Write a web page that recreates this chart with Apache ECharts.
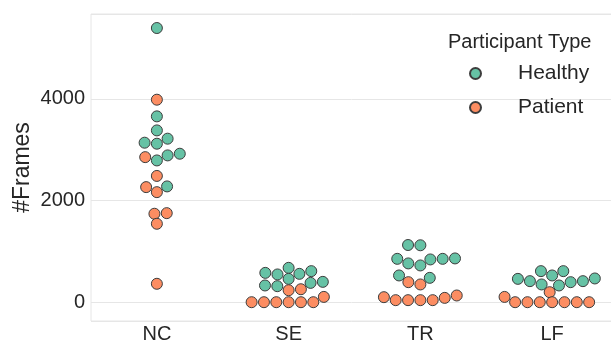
<!DOCTYPE html>
<html><head><meta charset="utf-8">
<script src="https://cdn.jsdelivr.net/npm/echarts@6/dist/echarts.min.js"></script>
<style>html,body{margin:0;padding:0;background:#fff}#c{width:611px;height:343px}</style>
</head><body><div id="c"></div>
<script>
const categories = ['NC', 'SE', 'TR', 'LF'];
const groupNames = ['Healthy', 'Patient'];
const yTickValues = [0, 2000, 4000];

const healthyNC = [5394, 3656, 3380, 3217, 3138, 3118, 2921, 2888, 2789, 2278];
const healthySE = [676, 611, 577, 558, 546, 459, 400, 380, 329, 315];
const healthyTR = [1125, 1120, 861, 853, 853, 841, 763, 723, 526, 479];
const healthyLF = [611, 611, 526, 467, 459, 414, 414, 394, 349, 329];

const patientNC = [3984, 2854, 2484, 2264, 2165, 1752, 1740, 1543, 362];
const patientSE = [255, 235, 104, 0, 0, 0, 0, 0, 0];
const patientTR = [394, 349, 132, 99, 85, 40, 40, 40, 40];
const patientLF = [197, 104, 0, 0, 0, 0, 0, 0, 0];

const healthy = [healthyNC, healthySE, healthyTR, healthyLF];
const patient = [patientNC, patientSE, patientTR, patientLF];

const FONT = 'Liberation Sans, Arial, Helvetica, sans-serif';
const TEXT = '#262626';

const chart = echarts.init(document.getElementById('c'), null, {renderer: 'canvas'});

function rawData(groups) {
  const out = [];
  groups.forEach((vals, ci) => vals.forEach(v => out.push([ci, v])));
  return out;
}

const baseStyle = {borderColor: '#3d3d3d', borderWidth: 1, opacity: 1};

const option = {
  animation: false,
  backgroundColor: '#ffffff',
  textStyle: {fontFamily: FONT},
  grid: {left: 91, right: -7, top: 14, bottom: 22, show: true, borderColor: '#e6e6e6', borderWidth: 1,
         containLabel: false, outerBoundsMode: 'none'},
  xAxis: [
    {type: 'category', data: categories, boundaryGap: true,
     axisLine: {show: false}, axisTick: {show: false}, splitLine: {show: false},
     axisLabel: {fontSize: 20, color: TEXT, margin: 3, fontFamily: FONT}},
    {type: 'value', min: -0.5, max: 3.5, show: false, splitLine: {show: false}}
  ],
  yAxis: {
    type: 'value', min: -370, max: 5670, splitNumber: 3,
    name: '#Frames', nameLocation: 'middle', nameRotate: 90, nameGap: 57, nameMoveOverlap: false,
    nameTextStyle: {fontSize: 23, color: TEXT, fontFamily: FONT},
    axisLine: {show: false}, axisTick: {show: false},
    axisLabel: {fontSize: 20, color: TEXT, margin: 6, fontFamily: FONT, showMinLabel: false, showMaxLabel: false,
      formatter: v => (yTickValues.indexOf(v) >= 0 ? String(v) : '')},
    splitLine: {lineStyle: {color: '#e6e6e6', width: 1}}
  },
  legend: {
    orient: 'vertical', left: 469, top: 63, padding: 0, itemGap: 13,
    icon: 'circle', itemWidth: 11, itemHeight: 11,
    textStyle: {fontSize: 21, color: TEXT, fontFamily: FONT, padding: [0, 0, 0, 32]},
    data: groupNames
  },
  graphic: [{
    type: 'text', left: 448, top: 32,
    style: {text: 'Participant Type', fontSize: 20, fill: TEXT, fontFamily: FONT}
  }],
  series: [
    {name: 'Healthy', type: 'scatter', xAxisIndex: 1, yAxisIndex: 0, symbolSize: 11,
     itemStyle: Object.assign({color: '#66c2a5'}, baseStyle), emphasis: {disabled: true},
     data: rawData(healthy)},
    {name: 'Patient', type: 'scatter', xAxisIndex: 1, yAxisIndex: 0, symbolSize: 11,
     itemStyle: Object.assign({color: '#fc8d62'}, baseStyle), emphasis: {disabled: true},
     data: rawData(patient)}
  ]
};
chart.setOption(option);

// Beeswarm layout (seaborn-style swarm), computed in pixel space relative to the category centre
const R = 5.875;      // swarm radius in px
const KY = 1.15;      // vertical weighting of distances used by the swarm
function beeswarm(items) {
  const order = items.map((it, i) => i).sort((a, b) => (items[a].y - items[b].y) || (a - b));
  const placed = [];
  const res = new Array(items.length);
  order.forEach((idx, k) => {
    const it = items[idx];
    let cand = 0;
    if (k > 0) {
      const neighbors = [];
      for (let j = placed.length - 1; j >= 0; j--) {
        if (it.y - placed[j].y < it.r + placed[j].r) neighbors.push(placed[j]); else break;
      }
      neighbors.reverse();
      const cands = [0];
      let leftFirst = true;
      neighbors.forEach(n => {
        const dy = it.y - n.y;
        const dx = Math.sqrt(Math.max((it.r + n.r) ** 2 - dy * dy, 0)) * 1.05;
        if (leftFirst) cands.push(n.x - dx, n.x + dx); else cands.push(n.x + dx, n.x - dx);
        leftFirst = !leftFirst;
      });
      const sorted = cands.map((c, i) => [c, i]).sort((a, b) => (Math.abs(a[0]) - Math.abs(b[0])) || (a[1] - b[1]));
      if (neighbors.length) {
        for (const [c] of sorted) {
          let ok = true;
          for (const n of neighbors) {
            const dx = n.x - c, dy = n.y - it.y;
            if (dx * dx + dy * dy < (n.r + it.r) ** 2 - 1e-9) { ok = false; break; }
          }
          if (ok) { cand = c; break; }
        }
      }
    }
    placed.push({x: cand, y: it.y, r: it.r});
    res[idx] = cand;
  });
  return res;
}

const pxPerX = chart.convertToPixel({xAxisIndex: 1}, 1) - chart.convertToPixel({xAxisIndex: 1}, 0);
const hData = [], pData = [];
categories.forEach((cat, ci) => {
  const items = [];
  healthy[ci].forEach(v => items.push({v, g: 0}));
  patient[ci].forEach(v => items.push({v, g: 1}));
  const sw = beeswarm(items.map(it => ({y: -KY * chart.convertToPixel({yAxisIndex: 0}, it.v), r: R})));
  items.forEach((it, i) => {
    (it.g === 0 ? hData : pData).push([ci + sw[i] / pxPerX, it.v]);
  });
});
chart.setOption({series: [{name: 'Healthy', data: hData}, {name: 'Patient', data: pData}]});
</script>
</body></html>
